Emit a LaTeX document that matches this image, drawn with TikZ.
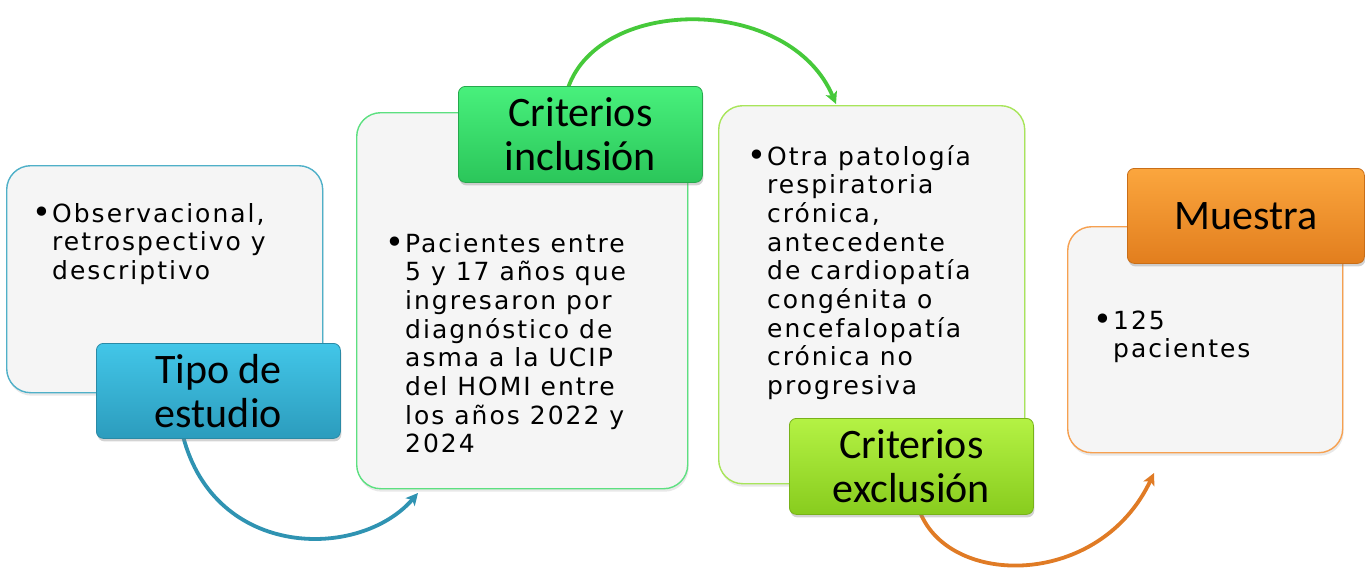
\documentclass[tikz,border=0pt]{standalone}
\usepackage{fontspec}
\setmainfont{DejaVu Sans}
\newfontfamily\titlefont{Carlito}
\newfontfamily\bodyfont[LetterSpace=8]{DejaVu Sans}
\usetikzlibrary{arrows.meta,shadows}
\definecolor{bodyfill}{HTML}{F5F5F5}
\definecolor{tealB}{HTML}{4FB0C8}
\definecolor{tealT}{HTML}{42C6E8}
\definecolor{tealD}{HTML}{2C9CBD}
\definecolor{tealE}{HTML}{2A8AA6}
\definecolor{tealA}{HTML}{2F93B2}
\definecolor{greenB}{HTML}{5CE080}
\definecolor{greenT}{HTML}{48F07C}
\definecolor{greenD}{HTML}{2BC65A}
\definecolor{greenE}{HTML}{26A84C}
\definecolor{greenA}{HTML}{46C93A}
\definecolor{limeB}{HTML}{A8E55A}
\definecolor{limeT}{HTML}{B4F244}
\definecolor{limeD}{HTML}{88CC1E}
\definecolor{limeE}{HTML}{78B21A}
\definecolor{orangeB}{HTML}{F6A050}
\definecolor{orangeT}{HTML}{FBA63E}
\definecolor{orangeD}{HTML}{E27E1E}
\definecolor{orangeE}{HTML}{C96E18}
\definecolor{orangeA}{HTML}{E07B25}
\newcommand\bodylines[1]{\vtop{\bodyfont\fontsize{25}{28.7}\selectfont\baselineskip=28.7pt #1}}
\newcommand\bul{\llap{\raisebox{-1.8pt}{\fontsize{32}{32}\selectfont•}\hspace{1pt}}}
\tikzset{
  bodybox/.style={draw, line width=1.4pt, fill=bodyfill, rounded corners=24pt, inner sep=0pt, anchor=north west,
    drop shadow={opacity=0.18, shadow xshift=1pt, shadow yshift=-3pt}},
  titlebox/.style={draw, line width=0.8pt, rounded corners=7pt, inner sep=0pt, anchor=north west, align=center,
    font=\titlefont\fontsize{42}{44}\selectfont, text=black,
    drop shadow={opacity=0.35, shadow xshift=1pt, shadow yshift=-3pt}},
  bodytext/.style={inner sep=0pt, anchor=base west, text=black},
  flow/.style={line width=3.8pt, -{Stealth[length=12pt,width=12pt,inset=3pt]}},
}
\begin{document}
\begin{tikzpicture}[x=1pt,y=-1pt]
\useasboundingbox (0,0) rectangle (1365,571);
% connector anchor points
\coordinate (a1s) at (183,436);
\coordinate (a1e) at (418,493);
\coordinate (a2s) at (568,88);
\coordinate (a2e) at (836,104);
\coordinate (a3s) at (920,512);
\coordinate (a3e) at (1154,473);
% arrows
\draw[flow, tealA] (a1s) .. controls (215,560) and (360,560) .. (a1e);
\draw[flow, greenA] (a2s) .. controls (600,-5) and (790,-5) .. (a2e);
\draw[flow, orangeA] (a3s) .. controls (950,588) and (1100,588) .. (a3e);
% body boxes
\node[bodybox, draw=tealB, minimum width=316pt, minimum height=227pt] (tipoB) at (6,165) {};
\node[bodybox, draw=greenB, minimum width=331pt, minimum height=376pt] (inclB) at (356,112) {};
\node[bodybox, draw=limeB, minimum width=306pt, minimum height=378pt] (exclB) at (718,105) {};
\node[bodybox, draw=orangeB, minimum width=275pt, minimum height=226pt] (muesB) at (1067,226) {};
% body texts
\node[bodytext] (tipoX) at (52,222) {\bodylines{\hbox{\bul Observacional,}\hbox{retrospectivo y}\hbox{descriptivo}}};
\node[bodytext] (inclX) at (405,252) {\bodylines{\hbox{\bul Pacientes entre}\hbox{5 y 17 años que}\hbox{ingresaron por}\hbox{diagnóstico de}\hbox{asma a la UCIP}\hbox{del HOMI entre}\hbox{los años 2022 y}\hbox{2024}}};
\node[bodytext] (exclX) at (767,165) {\bodylines{\hbox{\bul Otra patología}\hbox{respiratoria}\hbox{crónica,}\hbox{antecedente}\hbox{de cardiopatía}\hbox{congénita o}\hbox{encefalopatía}\hbox{crónica no}\hbox{progresiva}}};
\node[bodytext] (muesX) at (1113,329) {\bodylines{\hbox{\bul 125}\hbox{pacientes}}};
% title boxes
\node[titlebox, draw=tealE, top color=tealT, bottom color=tealD, minimum width=244pt, minimum height=95pt] (tipoT) at (96,343) {Tipo de\\estudio};
\node[titlebox, draw=greenE, top color=greenT, bottom color=greenD, minimum width=244pt, minimum height=96pt] (inclT) at (458,86) {Criterios\\inclusión};
\node[titlebox, draw=limeE, top color=limeT, bottom color=limeD, minimum width=244pt, minimum height=96pt] (exclT) at (789,418) {Criterios\\exclusión};
\node[titlebox, draw=orangeE, top color=orangeT, bottom color=orangeD, minimum width=237pt, minimum height=95pt] (muesT) at (1127,168) {Muestra};
\end{tikzpicture}
\end{document}
